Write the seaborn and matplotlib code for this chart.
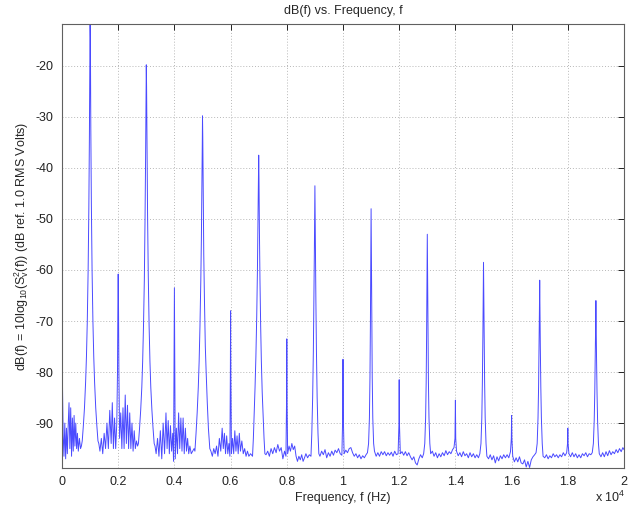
import numpy as np
import pandas as pd
import matplotlib
matplotlib.use("Agg")
import matplotlib.pyplot as plt
import seaborn as sns

# trace, as (frequency Hz, level dB) pairs, one list per region
dc_cluster = [(0, -71.5), (20, -84), (40, -92), (70, -96.5), (100, -90), (130, -97),
              (160, -91), (190, -96), (220, -90.5), (250, -86), (280, -95), (310, -87),
              (340, -96.5), (370, -89), (400, -95.5), (430, -88.5), (460, -94.5),
              (490, -90), (520, -95), (550, -92), (580, -95.5), (620, -93), (660, -95),
              (690, -94.5)]
peak_1k = [(720, -93.5), (760, -90.5), (800, -87), (840, -82), (870, -77), (900, -70),
           (930, -60), (955, -48), (975, -34), (990, -20), (1000, -11), (1010, -14.5),
           (1025, -32), (1045, -47), (1070, -60), (1100, -70), (1130, -77), (1160, -82),
           (1200, -87), (1240, -90.5), (1280, -93.5)]
cluster_2k = [(1310, -94), (1350, -95.5), (1400, -93), (1450, -96), (1500, -92),
              (1550, -95), (1600, -90), (1650, -95), (1700, -87.5), (1750, -94),
              (1790, -86), (1830, -95), (1870, -89), (1910, -95), (1950, -90), (1975, -80),
              (1990, -66), (2000, -60.8), (2010, -66), (2025, -80), (2050, -93),
              (2090, -88), (2130, -95), (2170, -87), (2210, -95), (2250, -84.5),
              (2290, -94), (2330, -86.5), (2370, -95), (2410, -88), (2450, -95),
              (2490, -90), (2530, -95.5), (2570, -91.5), (2610, -95), (2650, -93.5),
              (2690, -94.5)]
peak_3k = [(2720, -94), (2760, -91), (2800, -87.5), (2840, -83), (2870, -78), (2900, -71),
           (2930, -62), (2955, -50), (2975, -38), (2990, -26), (3000, -19.8), (3010, -24),
           (3025, -36), (3045, -49), (3070, -61), (3100, -71), (3130, -78), (3160, -83),
           (3200, -87.5), (3240, -91), (3280, -94)]
cluster_4k = [(3310, -94.5), (3350, -96), (3400, -93), (3450, -96.5), (3500, -91.5),
              (3550, -97), (3600, -90), (3650, -96), (3700, -88), (3740, -95),
              (3780, -89.5), (3820, -96), (3860, -90.5), (3900, -95.5), (3940, -92),
              (3970, -97.5), (3990, -75), (4000, -63.5), (4010, -75), (4030, -97),
              (4070, -91), (4110, -96), (4150, -88), (4190, -95), (4230, -89),
              (4270, -95.5), (4310, -89), (4350, -96), (4390, -91), (4430, -95.5),
              (4470, -93), (4510, -96), (4550, -94.5), (4600, -96), (4650, -95.5),
              (4700, -95)]
peak_5k = [(4730, -95.5), (4770, -92), (4810, -88), (4850, -83), (4880, -78), (4910, -71),
           (4940, -62), (4960, -54), (4980, -43), (4993, -35), (5000, -29.8), (5010, -34),
           (5025, -45), (5045, -57), (5070, -66), (5100, -75), (5130, -80), (5170, -86),
           (5210, -91), (5260, -95)]
cluster_6k = [(5300, -95.5), (5350, -96.5), (5400, -95), (5450, -96), (5500, -94.5),
              (5550, -96.5), (5600, -93), (5650, -95.5), (5700, -91), (5740, -95),
              (5780, -92), (5820, -96), (5860, -92.5), (5900, -96), (5940, -94),
              (5975, -96.5), (5992, -80), (6000, -68), (6008, -80), (6030, -96),
              (6070, -93), (6110, -96), (6150, -91.5), (6190, -95.5), (6230, -92.5),
              (6270, -96), (6310, -92), (6350, -95.5), (6400, -93.5), (6450, -96),
              (6500, -95), (6550, -96.5), (6600, -95.5), (6650, -96.5), (6710, -96)]
peak_7k = [(6780, -96.5), (6810, -93), (6840, -88), (6870, -83), (6900, -77), (6930, -69),
           (6955, -60), (6975, -50), (6990, -42), (7000, -37.5), (7010, -42), (7025, -52),
           (7045, -62), (7070, -71), (7095, -78), (7125, -84), (7160, -89), (7190, -93),
           (7220, -96)]
floor_8k = [(7260, -96.2), (7320, -95.5), (7380, -96.5), (7440, -95), (7500, -96),
            (7560, -94.8), (7620, -95.8), (7680, -94.2), (7740, -95.5), (7800, -94.8),
            (7860, -97), (7920, -95.5), (7970, -96.5), (7992, -85), (8000, -73.5),
            (8008, -85), (8030, -96), (8080, -94.5), (8130, -95.5), (8180, -94),
            (8230, -95.2), (8280, -94.5), (8330, -96.5), (8380, -97.5), (8430, -96.5),
            (8480, -97.2), (8530, -96.2), (8580, -97.5), (8630, -96.8), (8680, -96),
            (8740, -96.8), (8800, -96.2)]
peak_9k = [(8860, -96.5), (8890, -92), (8920, -85), (8945, -76), (8965, -66), (8980, -57),
           (8993, -48), (9000, -43.5), (9007, -48), (9020, -57), (9035, -66), (9055, -76),
           (9080, -85), (9110, -92), (9140, -96)]
floor_10k = [(9180, -96.5), (9240, -95.5), (9300, -96.2), (9360, -95.2), (9420, -96.8),
             (9480, -95.8), (9540, -96.5), (9600, -95.5), (9660, -96.3), (9720, -95.3),
             (9780, -95.8), (9840, -95), (9900, -96), (9960, -96.3), (9992, -88),
             (10000, -77.5), (10008, -88), (10040, -96), (10100, -95.3), (10160, -95.8),
             (10220, -95), (10280, -94.8), (10340, -95.8), (10400, -96.5), (10460, -96),
             (10520, -96.8), (10580, -96.2), (10640, -97), (10700, -96.4), (10760, -96.8),
             (10820, -96.2), (10870, -95.8)]
peak_11k = [(10910, -94), (10940, -89), (10960, -81), (10975, -71), (10988, -58),
            (11000, -48), (11012, -58), (11025, -71), (11040, -81), (11060, -89),
            (11090, -94), (11120, -95.5)]
floor_12k = [(11180, -96.5), (11240, -95.8), (11300, -96.5), (11360, -95.6), (11420, -96.2),
             (11480, -95.6), (11540, -96.4), (11600, -95.8), (11660, -96.3), (11720, -95.7),
             (11780, -96.5), (11840, -95.5), (11900, -96.2), (11960, -96), (11992, -90),
             (12000, -81.5), (12008, -90), (12040, -96), (12100, -95.6), (12160, -96.3),
             (12220, -95.6), (12280, -96.4), (12340, -95.8), (12400, -96.6), (12460, -97.2),
             (12520, -96.6), (12580, -97.8), (12640, -98.2), (12700, -97), (12760, -96.2),
             (12820, -96.8), (12870, -96)]
peak_13k = [(12910, -94), (12940, -89), (12960, -82), (12975, -73), (12988, -62),
            (13000, -53), (13012, -62), (13025, -73), (13040, -82), (13060, -89),
            (13090, -94), (13120, -96)]
floor_14k = [(13180, -95.5), (13240, -96.5), (13300, -95.8), (13360, -96.8), (13420, -96),
             (13480, -96.6), (13540, -95.8), (13600, -96.4), (13660, -95.4), (13720, -96.2),
             (13780, -95.6), (13840, -96), (13900, -95.2), (13950, -94.8), (13985, -93),
             (14000, -85.5), (14012, -93), (14040, -95.5), (14100, -96.4), (14160, -95.8),
             (14220, -96.6), (14280, -95.6), (14340, -96.4), (14400, -96), (14460, -96.8),
             (14520, -95.8), (14580, -96.6), (14640, -96), (14700, -96.8), (14760, -96.2),
             (14820, -96.8), (14870, -96)]
peak_15k = [(14910, -94), (14940, -89), (14960, -82), (14978, -73), (14990, -65),
            (15000, -58.5), (15010, -65), (15022, -73), (15040, -82), (15060, -89),
            (15090, -94), (15120, -96.5)]
floor_16k = [(15180, -97), (15240, -96.2), (15300, -97.2), (15360, -96.4), (15420, -97.8),
             (15480, -96.6), (15540, -97.4), (15600, -96.4), (15660, -97), (15720, -96.2),
             (15780, -96.8), (15840, -96.2), (15900, -96.8), (15960, -95.6), (15990, -93),
             (16000, -88.5), (16010, -93), (16040, -96.5), (16100, -97.6), (16160, -96.8),
             (16220, -97.6), (16280, -96.6), (16340, -97.8), (16400, -98), (16460, -97.2),
             (16520, -98.6), (16580, -97.5), (16640, -98.7), (16700, -97.2), (16760, -96.6),
             (16820, -96.2), (16870, -95.8)]
peak_17k = [(16910, -94), (16940, -89), (16960, -83), (16978, -75), (16990, -68),
            (17000, -62), (17010, -68), (17022, -75), (17040, -83), (17060, -89),
            (17090, -94), (17120, -96.5)]
floor_18k = [(17180, -96.8), (17240, -96.2), (17300, -97), (17360, -96.4), (17420, -96.8),
             (17480, -96), (17540, -96.6), (17600, -96.2), (17660, -96.8), (17720, -96.2),
             (17780, -96.6), (17840, -95.8), (17900, -96.4), (17960, -95.8), (17990, -94),
             (18000, -91), (18010, -94), (18040, -96), (18100, -96.6), (18160, -95.8),
             (18220, -96.6), (18280, -96), (18340, -96.8), (18400, -96.2), (18460, -96.8),
             (18520, -96), (18580, -96.4), (18640, -95.8), (18700, -96.6), (18760, -96),
             (18820, -96.2), (18870, -95.8)]
peak_19k = [(18910, -94), (18940, -89.5), (18960, -84), (18978, -77), (18990, -71),
            (19000, -66), (19010, -71), (19022, -77), (19040, -84), (19060, -89.5),
            (19090, -94), (19120, -96)]
floor_20k = [(19180, -96.6), (19240, -95.8), (19300, -96.6), (19360, -95.6), (19420, -96.4),
             (19480, -95.4), (19540, -96.2), (19600, -95.6), (19660, -96), (19720, -95.2),
             (19780, -95.8), (19840, -95), (19900, -95.6), (19960, -94.8), (20000, -95.2)]

x_ticks = [0, 2000, 4000, 6000, 8000, 10000, 12000, 14000, 16000, 18000, 20000]
x_tick_labels = ["0", "0.2", "0.4", "0.6", "0.8", "1", "1.2", "1.4", "1.6", "1.8", "2"]
y_ticks = [-90, -80, -70, -60, -50, -40, -30, -20]

regions = [dc_cluster, peak_1k, cluster_2k, peak_3k, cluster_4k, peak_5k, cluster_6k,
           peak_7k, floor_8k, peak_9k, floor_10k, peak_11k, floor_12k, peak_13k,
           floor_14k, peak_15k, floor_16k, peak_17k, floor_18k, peak_19k, floor_20k]
spectrum = pd.DataFrame([p for r in regions for p in r], columns=["freq", "db"])

sns.set_style("white")
plt.rcParams['font.family'] = ['Liberation Sans', 'DejaVu Sans']
plt.rcParams['mathtext.fontset'] = 'custom'
plt.rcParams['mathtext.rm'] = 'Liberation Sans'
plt.rcParams['mathtext.it'] = 'Liberation Sans'

fig = plt.figure(figsize=(6.34, 5.08), dpi=100)
ax = fig.add_axes([62 / 634, 40 / 508, 562 / 634, 444 / 508])

sns.lineplot(data=spectrum, x="freq", y="db", ax=ax, estimator=None,
             color="#4a4aff", linewidth=0.7)

ax.set_xlim(0, 20000)
ax.set_ylim(-98.8, -11.8)
ax.set_xticks(x_ticks)
ax.set_xticklabels(x_tick_labels)
ax.set_yticks(y_ticks)
ax.set_yticklabels([str(v) for v in y_ticks])

# matlab look: dotted grid, inward ticks all round
ax.grid(True, linestyle=(0, (1, 2)), color="#b8b8b8", linewidth=0.7)
ax.tick_params(direction="in", length=4, width=0.7, top=True, right=True,
               labelsize=9, colors="#222222", pad=6)
for s in ax.spines.values():
    s.set_color("#606060")
    s.set_linewidth(0.8)

ax.set_title("dB(f) vs. Frequency, f", fontsize=9, pad=7)
ax.set_xlabel("Frequency, f (Hz)", fontsize=9, labelpad=3)
ax.set_ylabel(r"dB(f) = 10log$_{10}$(S$_v^2$(f)) (dB ref. 1.0 RMS Volts)", fontsize=9,
              labelpad=3)
fig.text(625 / 634, 6 / 508, r"x 10$^4$", ha="right", va="baseline", fontsize=9)

fig.savefig("out.png", dpi=100)
